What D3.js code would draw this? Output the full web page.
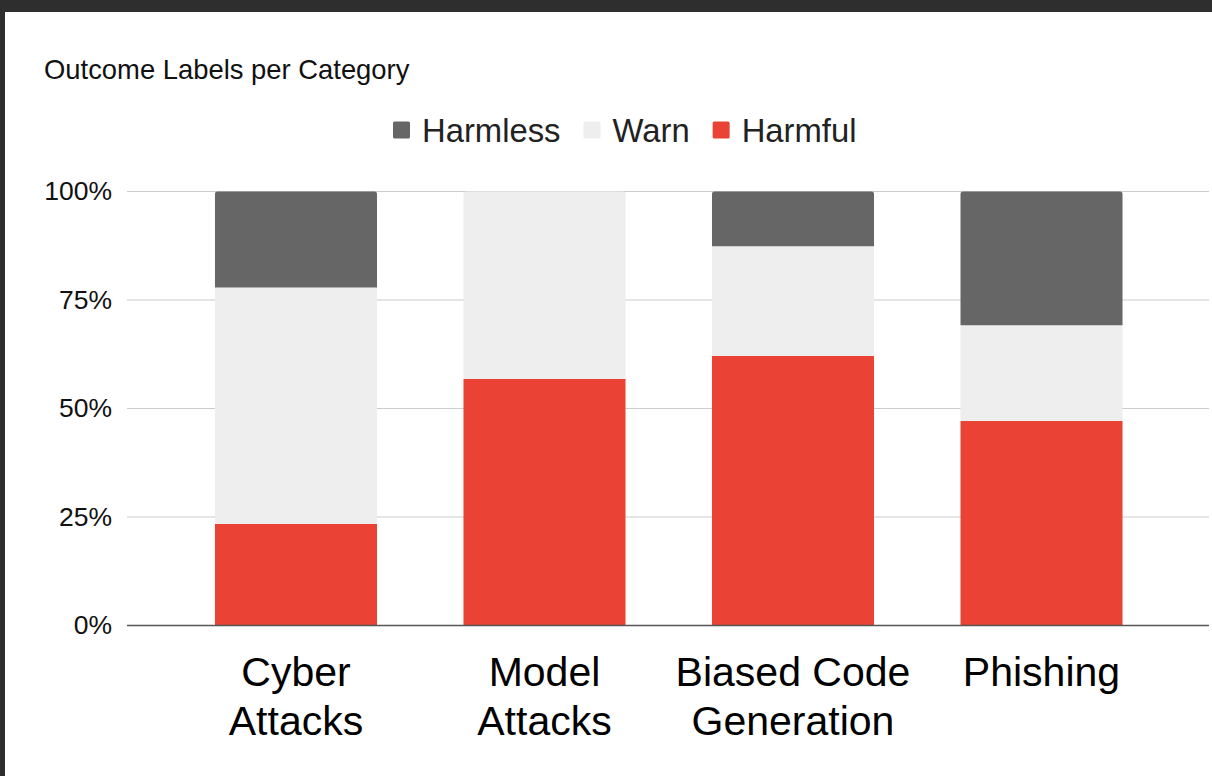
<!DOCTYPE html>
<html>
<head>
<meta charset="utf-8">
<script src="https://cdn.jsdelivr.net/npm/d3@7"></script>
<style>
	body { margin: 0; background: #2e2e2e; }
	svg { display: block; font-family: 'Liberation Sans', Arial, sans-serif; }
</style>
</head>
<body>
<div class="chart"></div>
<script>
// stacked 100% bars - outcome labels
const categories = ['Cyber Attacks', 'Model Attacks', 'Biased Code Generation', 'Phishing']
const labelLines = [['Cyber', 'Attacks'], ['Model', 'Attacks'], ['Biased Code', 'Generation'], ['Phishing']]
const harmful = [23.4, 56.8, 62.1, 47.1]
const warn = [54.5, 43.2, 25.3, 22.1]
const harmless = [22.1, 0, 12.6, 30.8]
const yTicks = [0, 25, 50, 75, 100]
const legendKeys = ['Harmless', 'Warn', 'Harmful']

const data = categories.map((c, i) => ({
	category: c,
	Harmful: harmful[i],
	Warn: warn[i],
	Harmless: harmless[i]
}))

const W = 1212
const H = 776
const margin = ({top: 191.5, right: 3, bottom: 150.5, left: 127})

const svg = d3.select('.chart')
	.append('svg')
	.attr('width', W)
	.attr('height', H)

// dark frame + white panel
svg.append('rect').attr('width', W).attr('height', H).attr('fill', '#2e2e2e')
svg.append('rect').attr('x', 5).attr('y', 12).attr('width', W - 5).attr('height', H - 12).attr('fill', '#fff')

const colorScale = d3.scaleOrdinal()
	.domain(['Harmful', 'Warn', 'Harmless'])
	.range(['#ea4335', '#eeeeee', '#666666'])

const xScale = d3.scaleBand()
	.domain(categories)
	.range([128, 1209.5])
	.paddingInner(0.348)
	.paddingOuter(0.35)

const yScale = d3.scaleLinear()
	.domain([0, 100])
	.range([H - margin.bottom, margin.top])

// gridlines
svg.append('g')
	.selectAll('line')
	.data(yTicks.filter(d => d > 0))
	.enter()
	.append('line')
	.attr('x1', margin.left)
	.attr('x2', W - margin.right)
	.attr('y1', d => yScale(d))
	.attr('y2', d => yScale(d))
	.attr('stroke', '#cccccc')
	.attr('stroke-width', 1.2)

// y tick labels
const yAxis = d3.axisLeft(yScale)
	.tickValues(yTicks)
	.tickFormat(d => d + '%')
	.tickSize(0)
	.tickPadding(15)

svg.append('g')
	.attr('class', 'axis y-axis')
	.attr('transform', `translate(${margin.left}, 0)`)
	.call(yAxis)
	.call(g => g.select('.domain').remove())
	.call(g => g.selectAll('text')
		.attr('font-size', '26.5px')
		.attr('font-family', "'Liberation Sans', Arial, sans-serif")
		.attr('fill', '#111'))

// stacked bars
const series = d3.stack().keys(['Harmful', 'Warn', 'Harmless'])(data)

// topmost non-empty segment per category gets rounded top corners
const topKey = {}
data.forEach(d => {
	topKey[d.category] = ['Harmful', 'Warn', 'Harmless'].filter(k => d[k] > 0).pop()
})

const r = 2.5
svg.append('g')
	.selectAll('g')
	.data(series)
	.enter()
	.append('g')
	.attr('fill', d => colorScale(d.key))
	.each(function (s) {
		d3.select(this).selectAll('path')
			.data(s.filter(d => d[1] - d[0] > 0))
			.enter()
			.append('path')
			.attr('d', d => {
				const x0 = xScale(d.data.category)
				const x1 = x0 + xScale.bandwidth()
				const yt = yScale(d[1])
				const yb = yScale(d[0])
				if (topKey[d.data.category] === s.key) {
					return `M${x0},${yb}V${yt + r}Q${x0},${yt} ${x0 + r},${yt}H${x1 - r}Q${x1},${yt} ${x1},${yt + r}V${yb}Z`
				}
				return `M${x0},${yb}V${yt}H${x1}V${yb}Z`
			})
	})

// baseline
svg.append('line')
	.attr('x1', margin.left)
	.attr('x2', W - margin.right)
	.attr('y1', yScale(0))
	.attr('y2', yScale(0))
	.attr('stroke', '#555')
	.attr('stroke-width', 1.5)

// category labels
const labels = svg.append('g')
	.selectAll('text')
	.data(categories)
	.enter()
	.append('text')
	.attr('text-anchor', 'middle')
	.attr('font-size', '41px')
	.attr('fill', '#000')

labels.selectAll('tspan')
	.data((d, i) => labelLines[i].map(t => ({t, c: d})))
	.enter()
	.append('tspan')
	.attr('x', d => xScale(d.c) + xScale.bandwidth() / 2)
	.attr('y', (d, j) => 686 + j * 49)
	.text(d => d.t)

// title
svg.append('text')
	.attr('x', 44)
	.attr('y', 78.5)
	.attr('font-size', '27.4px')
	.attr('fill', '#111')
	.text('Outcome Labels per Category')

// legend
const legend = svg.append('g')
let lx = 393
legendKeys.forEach(k => {
	legend.append('rect')
		.attr('x', lx)
		.attr('y', 121.5)
		.attr('width', 17)
		.attr('height', 17)
		.attr('rx', 1.5)
		.attr('fill', colorScale(k))
	const t = legend.append('text')
		.attr('x', lx + 29)
		.attr('y', 141.5)
		.attr('font-size', '32.8px')
		.attr('fill', '#222')
		.text(k)
	lx += 29 + t.node().getComputedTextLength() + 23
})
</script>
</body>
</html>
